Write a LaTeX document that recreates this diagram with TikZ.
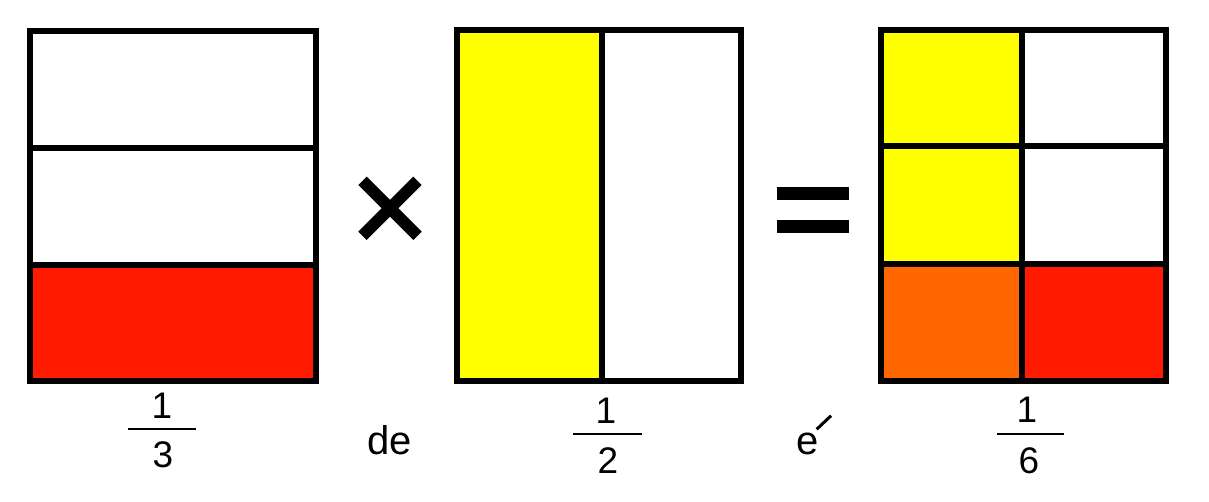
\documentclass[tikz,border=0pt]{standalone}
\usepackage{fontspec}
\setmainfont{Liberation Sans}
\definecolor{cred}{RGB}{255,26,0}
\definecolor{corange}{RGB}{255,102,0}
\definecolor{cyellow}{RGB}{255,255,0}
\begin{document}
\begin{tikzpicture}[x=1pt,y=-1pt,
  gridline/.style={line width=6pt,draw=black},
  digit/.style={inner sep=0pt,anchor=base,font=\fontsize{37}{40}\selectfont},
  word/.style={inner sep=0pt,anchor=base,font=\fontsize{40}{44}\selectfont},
  fracbar/.style={line width=2.3pt},
  opline/.style={line width=11.8pt,line cap=butt}]
\useasboundingbox[fill=white] (0,0) rectangle (1209,501);

% Box 1: one third
\fill[cred] (30,264.5) rectangle (315.5,381);
\draw[gridline] (30,30.5) rectangle (315.5,381);
\draw[gridline] (30,147.5) -- (315.5,147.5);
\draw[gridline] (30,264.5) -- (315.5,264.5);

% times sign
\draw[opline] (362.5,180.8) -- (417.5,235.8);
\draw[opline] (417.5,180.8) -- (362.5,235.8);

% Box 2: one half
\fill[cyellow] (456.7,29.7) rectangle (602.3,380.5);
\draw[gridline] (456.7,29.7) rectangle (741.3,380.5);
\draw[gridline] (602.3,29.7) -- (602.3,380.5);

% equals sign
\fill (777.3,187.3) rectangle (849.3,200);
\fill (777.3,220) rectangle (849.3,232.7);

% Box 3: one sixth
\fill[cyellow] (880.5,30) rectangle (1021.7,263.7);
\fill[corange] (880.5,263.7) rectangle (1021.7,380.5);
\fill[cred] (1021.7,263.7) rectangle (1165.7,380.5);
\draw[gridline] (880.5,30) rectangle (1165.7,380.5);
\draw[gridline] (1021.7,30) -- (1021.7,380.5);
\draw[gridline] (880.5,146.3) -- (1165.7,146.3);
\draw[gridline] (880.5,263.7) -- (1165.7,263.7);

% fraction 1/3
\node[digit] (n1) at (162,418.3) {1};
\draw[fracbar] (128.3,428.8) -- (196,428.8);
\node[digit] (d1) at (163,467.3) {3};

% de
\node[word] (de) at (390,454) {de};

% fraction 1/2
\node[digit] (n2) at (606,423.3) {1};
\draw[fracbar] (573.3,433.8) -- (641.7,433.8);
\node[digit] (d2) at (608,473.3) {2};

% e with displaced accent
\node[word] (e) at (808,454.5) {e};
\draw[line width=3pt] (816.7,429.3) -- (831,415.7);

% fraction 1/6
\node[digit] (n3) at (1027,422.7) {1};
\draw[fracbar] (996.7,433.7) -- (1064,433.7);
\node[digit] (d3) at (1029,473.8) {6};
\end{tikzpicture}
\end{document}
